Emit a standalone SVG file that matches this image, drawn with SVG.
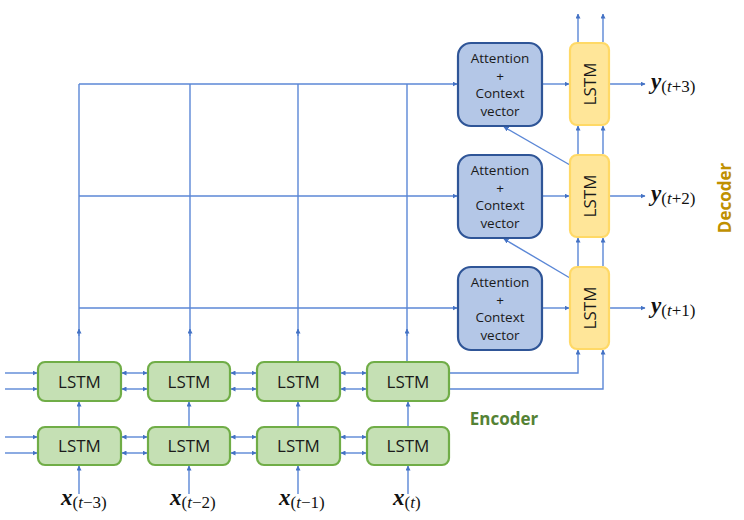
<svg xmlns="http://www.w3.org/2000/svg" width="744" height="520" viewBox="0 0 744 520">
<defs>
<marker id="ah" viewBox="0 0 10 10" refX="9" refY="5" markerWidth="5" markerHeight="5" orient="auto-start-reverse" markerUnits="userSpaceOnUse">
<path d="M0,0 L10,5 L0,10 z" fill="#4472C4"/>
</marker>
<style>
.c{stroke:#5B87D6;stroke-width:1.4;fill:none}
.enc{fill:#C5E0B4;stroke:#70AD47;stroke-width:2.2}
.att{fill:#B4C7E7;stroke:#2F5597;stroke-width:2.2}
.dec{fill:#FFE699;stroke:#FFD966;stroke-width:2.2}
.lt{font-family:"Open Sans","Liberation Sans",sans-serif;font-size:17px;fill:#1a1a1a;text-anchor:middle}
.at{font-family:"Open Sans","Liberation Sans",sans-serif;font-size:13.5px;fill:#1a1a1a;text-anchor:middle}
.m{font-family:"Liberation Serif","DejaVu Serif",serif;fill:#111}
.v{font-weight:bold;font-style:italic;font-size:23px}
.s{font-size:17px}
</style>
</defs>
<g id="connectors">
<path class="c" d="M79,84 H457" marker-end="url(#ah)"/>
<path class="c" d="M79,196 H457" marker-end="url(#ah)"/>
<path class="c" d="M79,308 H457" marker-end="url(#ah)"/>
<path class="c" d="M79,84 V336"/><path class="c" d="M79,361 V329" marker-end="url(#ah)"/>
<path class="c" d="M190,84 V336"/><path class="c" d="M190,361 V329" marker-end="url(#ah)"/>
<path class="c" d="M298,84 V336"/><path class="c" d="M298,361 V329" marker-end="url(#ah)"/>
<path class="c" d="M407,84 V336"/><path class="c" d="M407,361 V329" marker-end="url(#ah)"/>
<path class="c" d="M542,84 H569" marker-end="url(#ah)"/>
<path class="c" d="M542,196 H569" marker-end="url(#ah)"/>
<path class="c" d="M542,308 H569" marker-end="url(#ah)"/>
<path class="c" d="M609,84 H645" marker-end="url(#ah)"/>
<path class="c" d="M609,196 H645" marker-end="url(#ah)"/>
<path class="c" d="M609,308 H645" marker-end="url(#ah)"/>
<path class="c" d="M578,42 V14" marker-end="url(#ah)"/>
<path class="c" d="M603,42 V14" marker-end="url(#ah)"/>
<path class="c" d="M578,154 V126" marker-end="url(#ah)"/>
<path class="c" d="M603,154 V126" marker-end="url(#ah)"/>
<path class="c" d="M578,266 V238" marker-end="url(#ah)"/>
<path class="c" d="M603,266 V238" marker-end="url(#ah)"/>
<path class="c" d="M570,165 L504,127" marker-end="url(#ah)"/>
<path class="c" d="M570,278 L504,239" marker-end="url(#ah)"/>
<path class="c" d="M449,373 H578 V350" marker-end="url(#ah)"/>
<path class="c" d="M449,389 H603 V350" marker-end="url(#ah)"/>
<path class="c" d="M5,373 H37" marker-end="url(#ah)"/>
<path class="c" d="M5,389 H37" marker-end="url(#ah)"/>
<path class="c" d="M5,437 H37" marker-end="url(#ah)"/>
<path class="c" d="M5,453 H37" marker-end="url(#ah)"/>
<path class="c" d="M122,373 H147" marker-start="url(#ah)" marker-end="url(#ah)"/>
<path class="c" d="M122,389 H147" marker-start="url(#ah)" marker-end="url(#ah)"/>
<path class="c" d="M122,437 H147" marker-start="url(#ah)" marker-end="url(#ah)"/>
<path class="c" d="M122,453 H147" marker-start="url(#ah)" marker-end="url(#ah)"/>
<path class="c" d="M231,373 H256" marker-start="url(#ah)" marker-end="url(#ah)"/>
<path class="c" d="M231,389 H256" marker-start="url(#ah)" marker-end="url(#ah)"/>
<path class="c" d="M231,437 H256" marker-start="url(#ah)" marker-end="url(#ah)"/>
<path class="c" d="M231,453 H256" marker-start="url(#ah)" marker-end="url(#ah)"/>
<path class="c" d="M341,373 H366" marker-start="url(#ah)" marker-end="url(#ah)"/>
<path class="c" d="M341,389 H366" marker-start="url(#ah)" marker-end="url(#ah)"/>
<path class="c" d="M341,437 H366" marker-start="url(#ah)" marker-end="url(#ah)"/>
<path class="c" d="M341,453 H366" marker-start="url(#ah)" marker-end="url(#ah)"/>
<path class="c" d="M79,426 V402" marker-end="url(#ah)"/>
<path class="c" d="M189,426 V402" marker-end="url(#ah)"/>
<path class="c" d="M298,426 V402" marker-end="url(#ah)"/>
<path class="c" d="M408,426 V402" marker-end="url(#ah)"/>
<path class="c" d="M79,494 V466" marker-end="url(#ah)"/>
<path class="c" d="M189,494 V466" marker-end="url(#ah)"/>
<path class="c" d="M298,494 V466" marker-end="url(#ah)"/>
<path class="c" d="M408,494 V466" marker-end="url(#ah)"/>
</g>
<g id="enc-top-1"><rect class="enc" x="38" y="362" width="83" height="39" rx="7"/><text class="lt" x="79.5" y="387.5">LSTM</text></g>
<g id="enc-top-2"><rect class="enc" x="148" y="362" width="82" height="39" rx="7"/><text class="lt" x="189" y="387.5">LSTM</text></g>
<g id="enc-top-3"><rect class="enc" x="257" y="362" width="83" height="39" rx="7"/><text class="lt" x="298.5" y="387.5">LSTM</text></g>
<g id="enc-top-4"><rect class="enc" x="367" y="362" width="82" height="39" rx="7"/><text class="lt" x="408" y="387.5">LSTM</text></g>
<g id="enc-bot-1"><rect class="enc" x="38" y="427" width="83" height="38" rx="7"/><text class="lt" x="79.5" y="452">LSTM</text></g>
<g id="enc-bot-2"><rect class="enc" x="148" y="427" width="82" height="38" rx="7"/><text class="lt" x="189" y="452">LSTM</text></g>
<g id="enc-bot-3"><rect class="enc" x="257" y="427" width="83" height="38" rx="7"/><text class="lt" x="298.5" y="452">LSTM</text></g>
<g id="enc-bot-4"><rect class="enc" x="367" y="427" width="82" height="38" rx="7"/><text class="lt" x="408" y="452">LSTM</text></g>
<g id="att-3"><rect class="att" x="458" y="43" width="84" height="83" rx="13"/><text class="at" x="500" y="63">Attention<tspan x="500" dy="17.5">+</tspan><tspan x="500" dy="17.5">Context</tspan><tspan x="500" dy="17.5">vector</tspan></text></g>
<g id="att-2"><rect class="att" x="458" y="155" width="84" height="83" rx="13"/><text class="at" x="500" y="175">Attention<tspan x="500" dy="17.5">+</tspan><tspan x="500" dy="17.5">Context</tspan><tspan x="500" dy="17.5">vector</tspan></text></g>
<g id="att-1"><rect class="att" x="458" y="267" width="84" height="83" rx="13"/><text class="at" x="500" y="287">Attention<tspan x="500" dy="17.5">+</tspan><tspan x="500" dy="17.5">Context</tspan><tspan x="500" dy="17.5">vector</tspan></text></g>
<g id="dec-3"><rect class="dec" x="570" y="43" width="39" height="82" rx="7"/><text class="lt" transform="translate(595.5,84) rotate(-90)">LSTM</text></g>
<g id="dec-2"><rect class="dec" x="570" y="155" width="39" height="82" rx="7"/><text class="lt" transform="translate(595.5,196) rotate(-90)">LSTM</text></g>
<g id="dec-1"><rect class="dec" x="570" y="267" width="39" height="82" rx="7"/><text class="lt" transform="translate(595.5,308) rotate(-90)">LSTM</text></g>
<g id="labels">
<text class="m" x="61" y="505"><tspan class="v">x</tspan><tspan class="s" dy="3">(<tspan font-style="italic">t</tspan>−3)</tspan></text>
<text class="m" x="170" y="505"><tspan class="v">x</tspan><tspan class="s" dy="3">(<tspan font-style="italic">t</tspan>−2)</tspan></text>
<text class="m" x="279" y="505"><tspan class="v">x</tspan><tspan class="s" dy="3">(<tspan font-style="italic">t</tspan>−1)</tspan></text>
<text class="m" x="393" y="505"><tspan class="v">x</tspan><tspan class="s" dy="3">(<tspan font-style="italic">t</tspan>)</tspan></text>
<text class="m" x="651" y="89"><tspan class="v">y</tspan><tspan class="s" dy="3">(<tspan font-style="italic">t</tspan>+3)</tspan></text>
<text class="m" x="651" y="201"><tspan class="v">y</tspan><tspan class="s" dy="3">(<tspan font-style="italic">t</tspan>+2)</tspan></text>
<text class="m" x="651" y="313"><tspan class="v">y</tspan><tspan class="s" dy="3">(<tspan font-style="italic">t</tspan>+1)</tspan></text>
<text x="504" y="425" text-anchor="middle" font-family="'Open Sans','Liberation Sans',sans-serif" font-weight="bold" font-size="17" fill="#548235">Encoder</text>
<text transform="translate(731,198) rotate(-90)" text-anchor="middle" font-family="'Open Sans','Liberation Sans',sans-serif" font-weight="bold" font-size="17" fill="#BF9000">Decoder</text>
</g>
</svg>
